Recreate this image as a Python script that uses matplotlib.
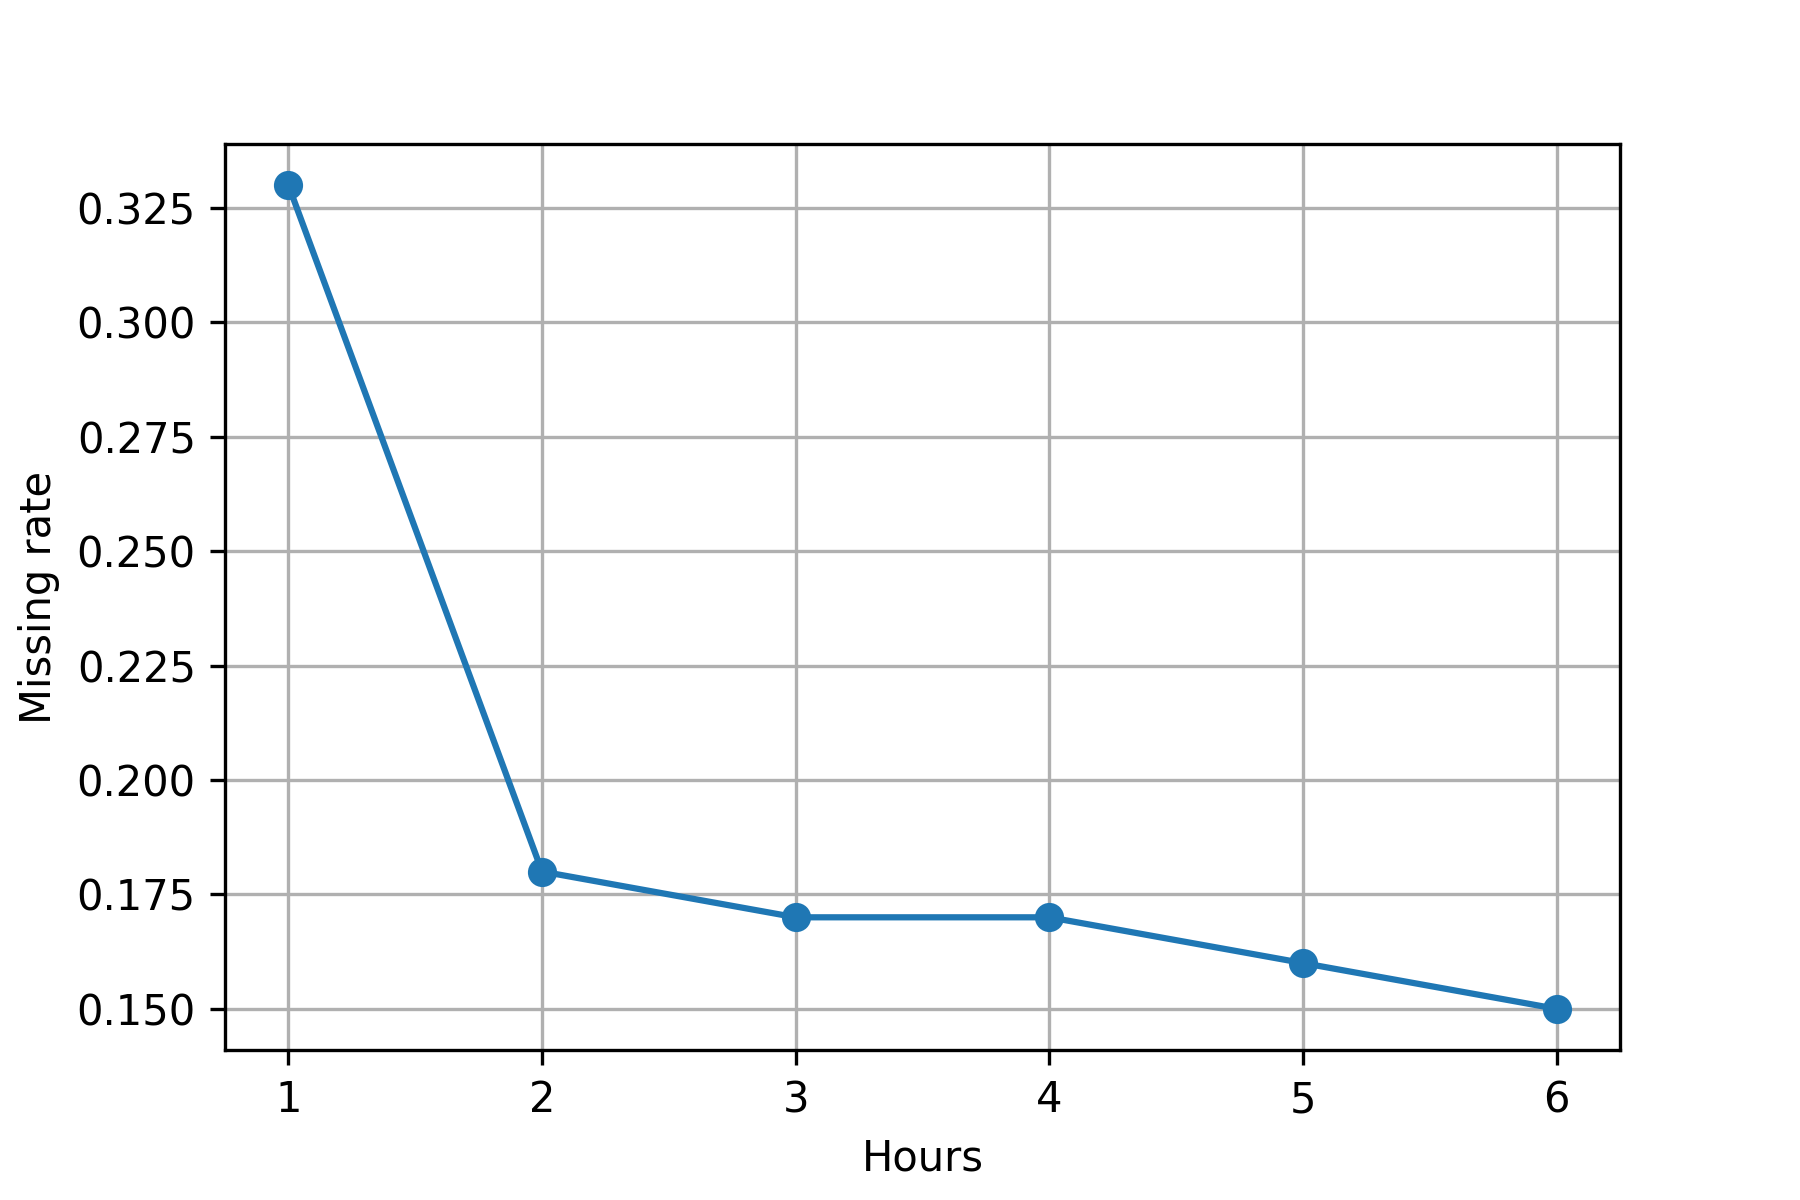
import matplotlib
matplotlib.use("Agg")
import matplotlib.pyplot as plt

hours = [1, 2, 3, 4, 5, 6]
missing_rate = [0.33, 0.18, 0.17, 0.17, 0.16, 0.15]

fig, ax = plt.subplots(figsize=(6, 4), dpi=300)
fig.subplots_adjust(bottom=0.125)
ax.plot(hours, missing_rate, marker='o')
ax.set_xlabel("Hours")
ax.set_ylabel("Missing rate")
ax.grid(True)

fig.savefig("out.png", dpi=300)
